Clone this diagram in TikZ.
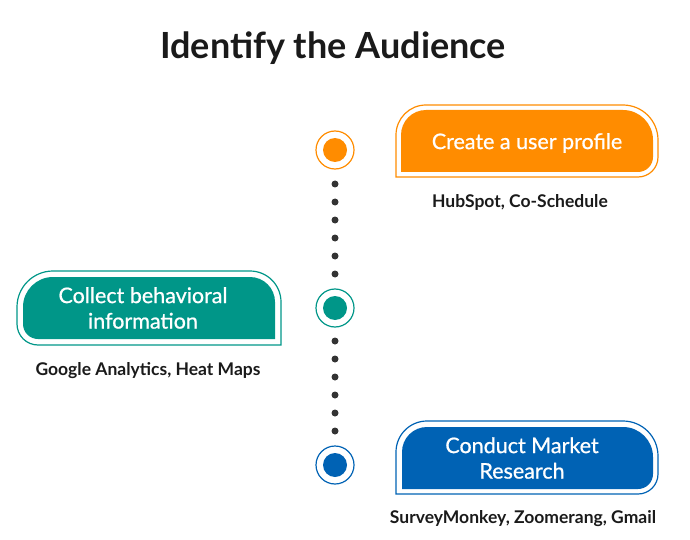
\documentclass[tikz,border=0pt]{standalone}
\usepackage{fontspec}
\setmainfont{Lato}
\usepackage{tikz}
\usetikzlibrary{calc}

\definecolor{profileC}{RGB}{255,140,0}
\definecolor{behaveC}{RGB}{0,150,136}
\definecolor{marketC}{RGB}{0,98,180}
\definecolor{dotC}{RGB}{51,51,51}
\definecolor{inkC}{RGB}{26,26,26}

\begin{document}
\begin{tikzpicture}[
    x=1pt, y=1pt,
    ring/.style={circle, draw=#1, line width=1.2pt, minimum size=38pt,
      inner sep=0pt,
      path picture={\fill[#1] (path picture bounding box.center) circle (12pt);}},
    tab/.style={fill=#1},
    rim/.style={draw=#1, line width=1.2pt},
    boxtext/.style={text=white, align=center, inner sep=0pt,
      font=\addfontfeature{FakeBold=0.8}\fontsize{21.5}{25.5}\selectfont},
    tools/.style={text=inkC, anchor=base, inner sep=0pt,
      font=\bfseries\fontsize{17.5}{20}\selectfont},
    dot/.style={fill=dotC}
]
\useasboundingbox (0,0) rectangle (690,539);

% title
\node[text=inkC, anchor=base, inner sep=0pt,
      font=\bfseries\fontsize{36}{40}\selectfont] (title) at (333,480)
  {Identify the Audience};

% timeline circles
\node[ring=profileC] (c1) at (335,389) {};
\node[ring=behaveC]  (c2) at (335,231) {};
\node[ring=marketC]  (c3) at (335,74)  {};

% dots between circles
\foreach \k in {0,...,5} {
  \fill[dot] ($(c1.center)+(0,{-34-18*\k})$) circle (3.5pt);
  \fill[dot] ($(c2.center)+(0,{-33-18*\k})$) circle (3.5pt);
}

% create a user profile
\fill[tab=profileC] (401,367) -- (401,404) arc[start angle=180, end angle=90, radius=25]
  -- (623,429) arc[start angle=90, end angle=0, radius=30]
  -- (653,382) arc[start angle=0, end angle=-90, radius=15] -- cycle;
\draw[rim=profileC] (396,362) -- (396,404) arc[start angle=180, end angle=90, radius=30]
  -- (623,434) arc[start angle=90, end angle=0, radius=35]
  -- (658,382) arc[start angle=0, end angle=-90, radius=20] -- cycle;
\node[boxtext] (profile) at (527,396) {Create a user profile};
\node[tools] (profiletools) at (520,331) {HubSpot, Co-Schedule};

% collect behavioral information
\fill[tab=behaveC] (275,200) -- (275,237) arc[start angle=0, end angle=90, radius=25]
  -- (53,262) arc[start angle=90, end angle=180, radius=30]
  -- (23,215) arc[start angle=180, end angle=270, radius=15] -- cycle;
\draw[rim=behaveC] (281,194) -- (281,237) arc[start angle=0, end angle=90, radius=31]
  -- (53,268) arc[start angle=90, end angle=180, radius=36]
  -- (17,215) arc[start angle=180, end angle=270, radius=21] -- cycle;
\node[boxtext] (behave) at (143,231) {Collect behavioral\\information};
\node[tools] (behavetools) at (148,164) {Google Analytics, Heat Maps};

% conduct market research
\fill[tab=marketC] (402,50) -- (402,87) arc[start angle=180, end angle=90, radius=25]
  -- (623,112) arc[start angle=90, end angle=0, radius=30]
  -- (653,65) arc[start angle=0, end angle=-90, radius=15] -- cycle;
\draw[rim=marketC] (396,45) -- (396,87) arc[start angle=180, end angle=90, radius=31]
  -- (623,118) arc[start angle=90, end angle=0, radius=35]
  -- (658,65) arc[start angle=0, end angle=-90, radius=20] -- cycle;
\node[boxtext] (market) at (522,81) {Conduct Market\\Research};
\node[tools] (markettools) at (523,16) {SurveyMonkey, Zoomerang, Gmail};
\end{tikzpicture}
\end{document}
